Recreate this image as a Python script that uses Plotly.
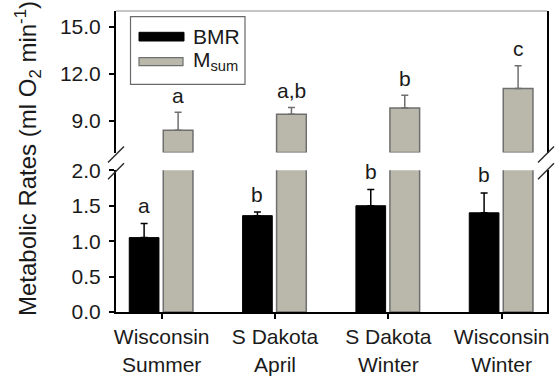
import plotly.graph_objects as go

# ---- data ----
categories = ["Wisconsin<br>Summer", "S Dakota<br>April", "S Dakota<br>Winter", "Wisconsin<br>Winter"]
bmr = [1.05, 1.36, 1.50, 1.40]
bmr_err = [0.20, 0.05, 0.23, 0.28]
msum = [8.41, 9.43, 9.83, 11.07]
msum_err = [1.15, 0.43, 0.81, 1.44]
bmr_letters = ["a", "b", "b", "b"]
msum_letters = ["a", "a,b", "b", "c"]
lower_ticks = [0.0, 0.5, 1.0, 1.5, 2.0]
upper_ticks = [9.0, 12.0, 15.0]
LOW_RANGE = [0, 2.0]
UP_RANGE = [7.0, 16.0]

# ---- geometry ----
W, H = 555, 377
ML, MR, MT, MB = 116, 8, 11, 65
PW, PH = W - ML - MR, H - MT - MB
LOW_TOP_PX = 170.3
UP_BOT_PX = 152.5


def xp(px):
    return (px - ML) / PW


def yp(py):
    return (H - MB - py) / PH


FONT = "Liberation Sans, Arial, sans-serif"
TXT = "#1a1a1a"
GRAY_FILL = "#b9b8ab"
GRAY_LINE = "#6f6f6f"
FS = 21
BW = 0.262
OFF_B = -0.286
OFF_M = 0.014
idx = list(range(len(categories)))

fig = go.Figure()
fig.add_trace(go.Bar(
    x=idx, y=bmr, width=BW, offset=OFF_B, yaxis="y", xaxis="x",
    marker=dict(color="black", line=dict(color="black", width=1)),
    error_y=dict(type="data", array=bmr_err, arrayminus=[0] * 4, symmetric=False,
                 color="black", thickness=1.5, width=3.5),
    showlegend=False))
fig.add_trace(go.Bar(
    x=idx, y=msum, width=BW, offset=OFF_M, yaxis="y", xaxis="x",
    marker=dict(color=GRAY_FILL, line=dict(color=GRAY_LINE, width=1.5)),
    showlegend=False))
fig.add_trace(go.Bar(
    x=idx, y=[m - UP_RANGE[0] for m in msum], base=UP_RANGE[0], width=BW, offset=OFF_M,
    yaxis="y2", xaxis="x",
    marker=dict(color=GRAY_FILL, line=dict(color=GRAY_LINE, width=1.5)),
    error_y=dict(type="data", array=msum_err, arrayminus=[0] * 4, symmetric=False,
                 color=GRAY_LINE, thickness=1.5, width=3.5),
    showlegend=False))

annotations = []
for i in idx:
    annotations.append(dict(x=i + OFF_B + BW / 2, y=bmr[i] + bmr_err[i], xref="x", yref="y",
                            text=bmr_letters[i], showarrow=False, yanchor="middle", yshift=18,
                            font=dict(size=FS, color=TXT, family=FONT)))
    annotations.append(dict(x=i + OFF_M + BW / 2, y=msum[i] + msum_err[i], xref="x", yref="y2",
                            text=msum_letters[i], showarrow=False, yanchor="middle", yshift=17,
                            font=dict(size=FS, color=TXT, family=FONT)))

annotations.append(dict(x=xp(28), y=yp(159), xref="paper", yref="paper", textangle=-90,
                        text="Metabolic Rates (ml O<sub>2</sub> min<sup>-1</sup>)",
                        showarrow=False, xanchor="center", yanchor="middle",
                        font=dict(size=24, color=TXT, family=FONT)))
# legend labels
annotations.append(dict(x=xp(191), y=yp(36.7), xref="paper", yref="paper", text="BMR",
                        showarrow=False, xanchor="left", yanchor="middle",
                        font=dict(size=FS, color=TXT, family=FONT)))
annotations.append(dict(x=xp(191), y=yp(61), xref="paper", yref="paper", text="M<sub>sum</sub>",
                        showarrow=False, xanchor="left", yanchor="middle",
                        font=dict(size=FS, color=TXT, family=FONT)))

shapes = []
# top border
shapes.append(dict(type="line", xref="paper", yref="paper", x0=0, x1=1, y0=1, y1=1,
                   line=dict(color="#8a8a8a", width=1)))
# axis-break slashes
for ax in (116, 546):
    for cy in (UP_BOT_PX + 2, LOW_TOP_PX + 1):
        shapes.append(dict(type="line", xref="paper", yref="paper",
                           x0=xp(ax - 8), y0=yp(cy + 8), x1=xp(ax + 8), y1=yp(cy - 8),
                           line=dict(color="#2a2a2a", width=1.5)))
# legend box and swatches
shapes.append(dict(type="rect", xref="paper", yref="paper", x0=xp(130.5), x1=xp(245),
                   y0=yp(84.3), y1=yp(16.7), line=dict(color="#6a6a6a", width=1.2),
                   fillcolor="white", layer="below"))
shapes.append(dict(type="rect", xref="paper", yref="paper", x0=xp(139), x1=xp(184),
                   y0=yp(41), y1=yp(32.3), line=dict(color="black", width=1), fillcolor="black"))
shapes.append(dict(type="rect", xref="paper", yref="paper", x0=xp(139), x1=xp(183),
                   y0=yp(65.7), y1=yp(57.7), line=dict(color=GRAY_LINE, width=1.2),
                   fillcolor=GRAY_FILL))

fig.update_layout(
    width=W, height=H, margin=dict(l=ML, r=MR, t=MT, b=MB, autoexpand=False),
    paper_bgcolor="white", plot_bgcolor="white", barmode="overlay",
    font=dict(family=FONT, color=TXT, size=FS),
    xaxis=dict(range=[-0.403, 3.40], tickvals=idx, ticktext=categories, anchor="y",
               showline=True, linecolor="black", linewidth=2, ticks="outside", ticklen=5,
               tickcolor="black", tickwidth=1.5, showgrid=False, zeroline=False,
               automargin=False,
               tickfont=dict(size=FS, color=TXT, family=FONT)),
    yaxis=dict(domain=[0, yp(LOW_TOP_PX)], range=LOW_RANGE, tickvals=lower_ticks,
               tickformat=".1f", showline=True, linecolor="black", linewidth=2, mirror=True,
               ticks="outside", ticklen=5, tickcolor="black", tickwidth=1.5, showgrid=False,
               ticklabelstandoff=4, automargin=False,
               zeroline=False, tickfont=dict(size=FS, color=TXT, family=FONT)),
    yaxis2=dict(domain=[yp(UP_BOT_PX), 1], range=UP_RANGE, tickvals=upper_ticks,
                tickformat=".1f", showline=True, linecolor="black", linewidth=2, mirror=True,
                ticks="outside", ticklen=5, tickcolor="black", tickwidth=1.5, showgrid=False,
                ticklabelstandoff=4, automargin=False,
                zeroline=False, anchor="x", tickfont=dict(size=FS, color=TXT, family=FONT)),
    annotations=annotations, shapes=shapes,
)

fig.write_html("out.html")
